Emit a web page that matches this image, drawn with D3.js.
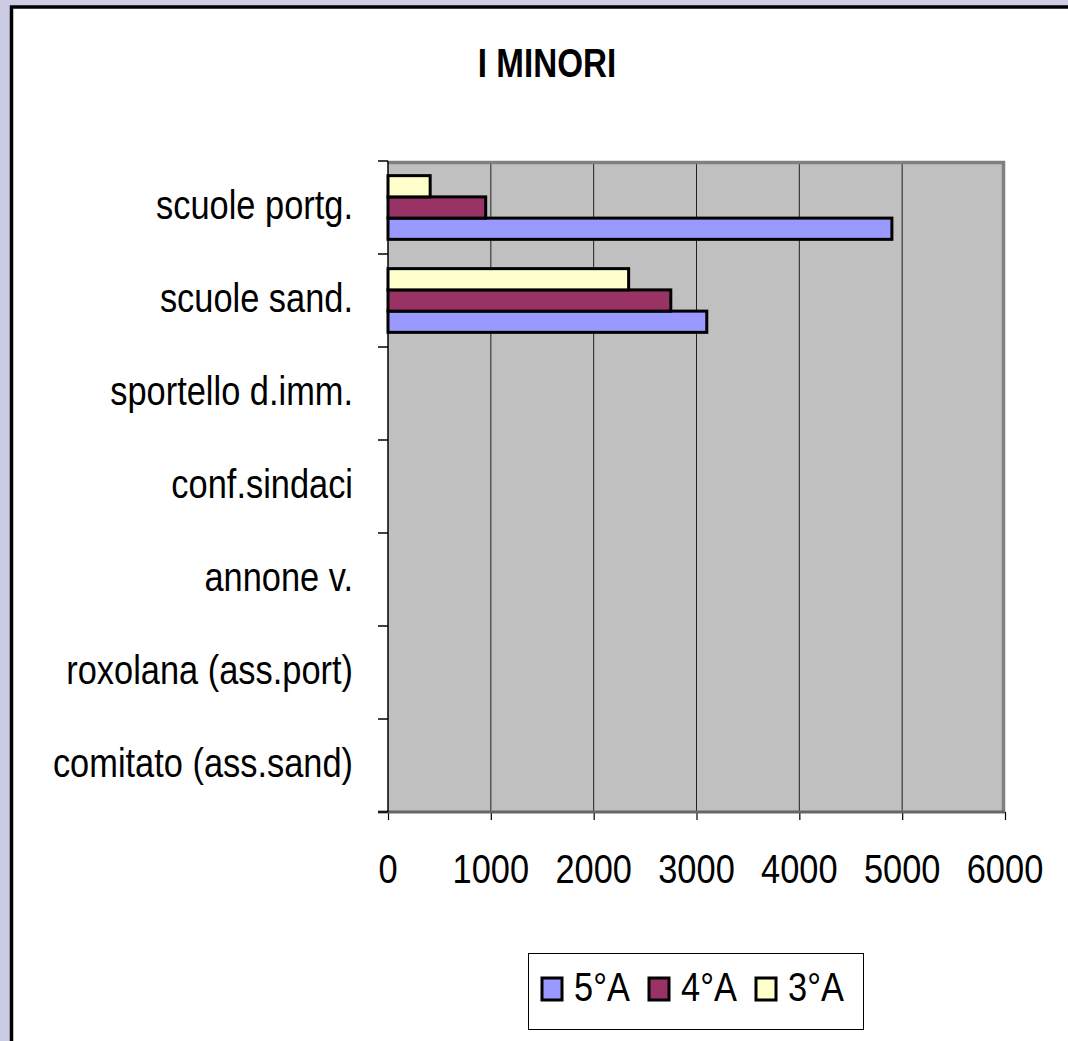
<!DOCTYPE html>
<html>
<head>
<meta charset="utf-8">
<script src="https://cdn.jsdelivr.net/npm/d3@7"></script>
<style>
  body { margin: 0; background: #CCCCE6; }
  text { font-family: "Liberation Sans", Arial, sans-serif; fill: #000; }
</style>
</head>
<body>
<div id="chart"></div>
<script>
// Chart data
var categories = ["scuole portg.", "scuole sand.", "sportello d.imm.", "conf.sindaci",
  "annone v.", "roxolana (ass.port)", "comitato (ass.sand)"];
var series = ["5°A", "4°A", "3°A"];
var values5A = [4900, 3100, 0, 0, 0, 0, 0];
var values4A = [950, 2750, 0, 0, 0, 0, 0];
var values3A = [410, 2340, 0, 0, 0, 0, 0];
var xTicks = [0, 1000, 2000, 3000, 4000, 5000, 6000];
var colors = ["#9999FF", "#993366", "#FFFFCC"];

var svgWidth = 1068;
var svgHeight = 1041;

// plot area
var margin = { top: 161, left: 388, right: 63, bottom: 229 };
var width = svgWidth - margin.left - margin.right;
var height = svgHeight - margin.top - margin.bottom;

// text is drawn a bit narrow, like the original
var squeeze = 0.86;

var svg = d3.select("#chart")
  .append("svg")
  .attr("width", svgWidth)
  .attr("height", svgHeight);

// lavender page with white chart area and black border
svg.append("rect")
  .attr("width", svgWidth)
  .attr("height", svgHeight)
  .attr("fill", "#CCCCE6");

svg.append("rect")
  .attr("x", 11.5)
  .attr("y", 7)
  .attr("width", 1200)
  .attr("height", 1200)
  .attr("fill", "#fff")
  .attr("stroke", "#000")
  .attr("stroke-width", 3.5);

// title
svg.append("text")
  .attr("transform", "translate(547, 77) scale(0.83,1)")
  .attr("text-anchor", "middle")
  .attr("font-size", "40px")
  .attr("font-weight", "bold")
  .text("I MINORI");

var chartGroup = svg.append("g")
  .attr("transform", `translate(${margin.left}, ${margin.top})`);

// scales
var xScale = d3.scaleLinear().domain([0, 6000]).range([0, width]);
var yScale = d3.scaleBand().domain(categories).range([0, height]).padding(0);
// 3°A on top, 5°A at the bottom of each group
var ySub = d3.scaleBand().domain(series.slice().reverse())
  .range([0, yScale.bandwidth()]).paddingInner(0).paddingOuter(0.69);

// grey plot background
chartGroup.append("rect")
  .attr("width", width)
  .attr("height", height)
  .attr("fill", "#C0C0C0");

// vertical gridlines
chartGroup.append("g")
  .selectAll("line")
  .data(xTicks.slice(1, -1))
  .enter()
  .append("line")
  .attr("x1", d => xScale(d))
  .attr("x2", d => xScale(d))
  .attr("y1", 0)
  .attr("y2", height)
  .attr("stroke", "#222")
  .attr("stroke-width", 1);

// top and right border of plot
chartGroup.append("path")
  .attr("d", `M0,1.5 H${width - 1.5} V${height}`)
  .attr("fill", "none")
  .attr("stroke", "#808080")
  .attr("stroke-width", 3.5);

// bars
var seriesValues = [values5A, values4A, values3A];
series.forEach(function(s, i) {
  chartGroup.append("g")
    .selectAll("rect")
    .data(categories.map((c, j) => ({ cat: c, value: seriesValues[i][j] })).filter(d => d.value > 0))
    .enter()
    .append("rect")
    .attr("x", 0)
    .attr("y", d => yScale(d.cat) + ySub(s))
    .attr("width", d => xScale(d.value))
    .attr("height", ySub.bandwidth())
    .attr("fill", colors[i])
    .attr("stroke", "#000")
    .attr("stroke-width", 3);
});

// x axis
var bottomAxis = d3.axisBottom(xScale).tickValues(xTicks).tickSize(8).tickFormat(d3.format("d"));
var xAxis = chartGroup.append("g")
  .attr("transform", `translate(0, ${height})`)
  .call(bottomAxis);
xAxis.select(".domain").remove();
xAxis.selectAll(".tick line").attr("stroke", "#000").attr("stroke-width", 1.2);
xAxis.selectAll(".tick text").remove();

// baseline of x axis (grey)
chartGroup.append("line")
  .attr("x1", -10)
  .attr("x2", width)
  .attr("y1", height)
  .attr("y2", height)
  .attr("stroke", "#666")
  .attr("stroke-width", 3);

// x tick labels
chartGroup.append("g")
  .selectAll("text")
  .data(xTicks)
  .enter()
  .append("text")
  .attr("transform", d => `translate(${xScale(d)}, ${height + 71}) scale(${squeeze},1)`)
  .attr("text-anchor", "middle")
  .attr("font-size", "40px")
  .text(d => d);

// y axis line and ticks
chartGroup.append("line")
  .attr("x1", 0)
  .attr("x2", 0)
  .attr("y1", 0)
  .attr("y2", height)
  .attr("stroke", "#000")
  .attr("stroke-width", 1.5);

var tickPos = categories.map(c => yScale(c)).concat([height]);
chartGroup.append("g")
  .selectAll("line")
  .data(tickPos)
  .enter()
  .append("line")
  .attr("x1", -10)
  .attr("x2", 0)
  .attr("y1", d => d)
  .attr("y2", d => d)
  .attr("stroke", "#000")
  .attr("stroke-width", 1.5);

// category labels
chartGroup.append("g")
  .selectAll("text")
  .data(categories)
  .enter()
  .append("text")
  .attr("transform", d => `translate(-35, ${yScale(d) + yScale.bandwidth() / 2 + 11}) scale(${squeeze},1)`)
  .attr("text-anchor", "end")
  .attr("font-size", "40px")
  .text(d => d);

// legend
var legend = svg.append("g")
  .attr("transform", "translate(528, 953)");

legend.append("rect")
  .attr("x", 0.5)
  .attr("y", 0.5)
  .attr("width", 335)
  .attr("height", 76)
  .attr("fill", "#fff")
  .attr("stroke", "#000")
  .attr("stroke-width", 1);

var legendItems = legend.selectAll(".item")
  .data(series)
  .enter()
  .append("g")
  .attr("transform", (d, i) => `translate(${14 + i * 107}, 0)`);

legendItems.append("rect")
  .attr("x", 0)
  .attr("y", 25)
  .attr("width", 20)
  .attr("height", 22)
  .attr("fill", (d, i) => colors[i])
  .attr("stroke", "#000")
  .attr("stroke-width", 3);

legendItems.append("text")
  .attr("transform", `translate(32, 48) scale(${squeeze},1)`)
  .attr("font-size", "40px")
  .text(d => d);
</script>
</body>
</html>
